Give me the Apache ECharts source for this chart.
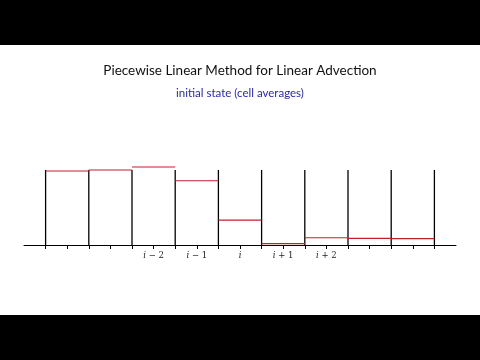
<!DOCTYPE html>
<html><head><meta charset="utf-8">
<script src="https://cdn.jsdelivr.net/npm/echarts@6/dist/echarts.min.js"></script>
<style>html,body{margin:0;padding:0;background:#fff}#c{width:480px;height:360px}</style>
</head><body><div id="c"></div>
<script>
const titleText = 'Piecewise Linear Method for Linear Advection';
const subtitleText = 'initial state (cell averages)';
// cell boundaries (cell index units)
const boundaries = [0, 1, 2, 3, 4, 5, 6, 7, 8, 9];
// cell averages (height relative to boundary line height = 1)
const cellAverages = [0.987, 1.0, 1.04, 0.857, 0.333, 0.018, 0.097, 0.089, 0.084];
const tickPositions = [0, 0.5, 1, 1.5, 2, 2.5, 3, 3.5, 4, 4.5, 5, 5.5, 6, 6.5, 7, 7.5, 8, 8.5, 9];
const labelPositions = [2.5, 3.5, 4.5, 5.5, 6.5];
const labelTexts = ['{i|i} − 2', '{i|i} − 1', '{i|i}', '{i|i} + 1', '{i|i} + 2'];
const boundaryHeight = 1.0;

const chart = echarts.init(document.getElementById('c'));
const cellData = cellAverages.map((v, k) => [boundaries[k], boundaries[k + 1], v]);
const lineData = boundaries.map(b => [b, boundaryHeight]);

chart.setOption({
  animation: false,
  backgroundColor: '#fff',
  title: [{
    text: titleText, left: 'center', top: 59,
    textStyle: { fontFamily: 'Lato', fontWeight: 'normal', fontSize: 13.5, color: '#111' }
  }, {
    text: subtitleText, left: 'center', top: 82,
    textStyle: { fontFamily: 'Lato', fontWeight: 'normal', fontSize: 11.5, color: '#2a2aa8' }
  }],
  graphic: [
    { type: 'rect', shape: { x: 0, y: 0, width: 480, height: 45 }, style: { fill: '#000' }, z: 100 },
    { type: 'rect', shape: { x: 0, y: 315, width: 480, height: 45 }, style: { fill: '#000' }, z: 100 }
  ],
  grid: { left: 24, width: 432, top: 155, height: 90 },
  xAxis: {
    type: 'value', min: -0.5, max: 9.5,
    splitLine: { show: false },
    axisLine: { lineStyle: { color: '#000', width: 1 } },
    axisTick: { show: true, length: 4, customValues: tickPositions, lineStyle: { color: '#000', width: 1 } },
    axisLabel: {
      customValues: labelPositions, margin: 6,
      formatter: v => labelTexts[labelPositions.indexOf(v)] || '',
      fontFamily: 'DejaVu Serif', fontSize: 8.5, color: '#222',
      rich: { i: { fontFamily: 'DejaVu Serif', fontStyle: 'italic', fontSize: 8.5, color: '#222' } }
    }
  },
  yAxis: { type: 'value', min: 0, max: 1.2, show: false, splitLine: { show: false } },
  series: [{
    type: 'custom',
    data: lineData,
    renderItem: (params, api) => {
      const p0 = api.coord([api.value(0), 0]);
      const p1 = api.coord([api.value(0), api.value(1)]);
      return { type: 'line', shape: { x1: p0[0], y1: p0[1], x2: p1[0], y2: p1[1] },
        style: { stroke: '#000', lineWidth: 1.3 } };
    },
    z: 2
  }, {
    type: 'custom',
    data: cellData,
    renderItem: (params, api) => {
      const a = api.coord([api.value(0), api.value(2)]);
      const b = api.coord([api.value(1), api.value(2)]);
      return { type: 'line', shape: { x1: a[0], y1: a[1], x2: b[0], y2: b[1] },
        style: { stroke: '#c41e2e', lineWidth: 1.2 } };
    },
    z: 3
  }]
});
</script></body></html>
